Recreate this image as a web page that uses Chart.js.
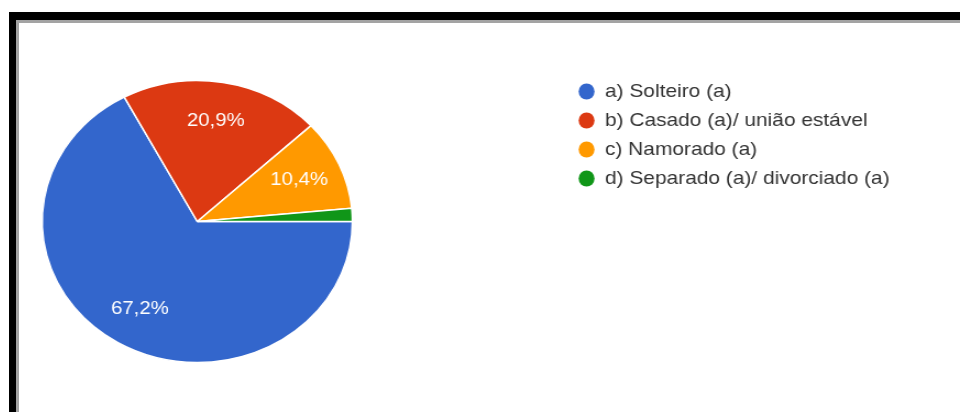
<!DOCTYPE html>
<html lang="pt-BR">
<head>
<meta charset="utf-8">
<title>Estado civil</title>
<script src="https://cdn.jsdelivr.net/npm/chart.js@4/dist/chart.umd.min.js"></script>
<style>
  html, body { margin: 0; padding: 0; background: #fff; overflow: hidden; }
  body { width: 960px; height: 412px; position: relative; }
  /* moldura preta com filete cinza (só em cima e à esquerda) */
  .moldura { position: absolute; left: 9px; top: 12px; right: -20px; bottom: -20px;
             border-top: 8px solid #000; border-left: 7px solid #000; }
  .filete { position: absolute; left: 0; top: 0; right: 0; bottom: 0;
            border-top: 3px solid #a3a3a3; border-left: 3px solid #a3a3a3; }
  #graficoEstadoCivil { position: absolute; left: -173px; top: 72px;
                        transform: scaleX(1.1); transform-origin: 0 0; }
</style>
</head>
<body>
<div class="moldura"><div class="filete"></div></div>
<canvas id="graficoEstadoCivil" width="976" height="299"></canvas>
<script>
// Dados
const categorias = [
  'a) Solteiro (a)',
  'b) Casado (a)/ união estável',
  'c) Namorado (a)',
  'd) Separado (a)/ divorciado (a)'
];
const percentuais = [67.2, 20.9, 10.4, 1.5];
const cores = ['#3366cc', '#dc3912', '#ff9900', '#109618'];

// Escreve o percentual dentro de cada fatia (fatias pequenas ficam sem texto)
const rotulosFatias = {
  id: 'rotulosFatias',
  afterDatasetsDraw(chart) {
    const { ctx } = chart;
    const meta = chart.getDatasetMeta(0);
    ctx.save();
    ctx.fillStyle = '#ffffff';
    ctx.font = '18.5px "Liberation Sans", Arial, sans-serif';
    ctx.textAlign = 'center';
    ctx.textBaseline = 'middle';
    meta.data.forEach((arco, i) => {
      const valor = percentuais[i];
      if (valor < 5) return;
      const meio = (arco.startAngle + arco.endAngle) / 2;
      const r = arco.outerRadius * 0.72;
      const x = arco.x + Math.cos(meio) * r;
      const y = arco.y + Math.sin(meio) * r;
      ctx.fillText(valor.toFixed(1).replace('.', ',') + '%', x, y);
    });
    ctx.restore();
  }
};

const ctx = document.getElementById('graficoEstadoCivil').getContext('2d');
const grafico = new Chart(ctx, {
  type: 'pie',
  data: {
    labels: categorias,
    datasets: [{
      data: percentuais,
      backgroundColor: cores,
      borderColor: '#ffffff',
      borderWidth: 1.5
    }]
  },
  options: {
    responsive: false,
    animation: false,
    rotation: 90,
    radius: 141,
    layout: { padding: 0 },
    plugins: {
      legend: {
        position: 'right',
        align: 'start',
        labels: {
          usePointStyle: true,
          pointStyle: 'circle',
          pointStyleWidth: 14.5,
          boxHeight: 11.3,
          padding: 10,
          color: '#333333',
          font: { family: '"Liberation Sans", Arial, sans-serif', size: 19 },
          // bolinhas sem a borda branca das fatias
          generateLabels(chart) {
            const itens = Chart.overrides.pie.plugins.legend.labels.generateLabels(chart);
            itens.forEach(item => { item.lineWidth = 0; });
            return itens;
          }
        }
      },
      tooltip: { enabled: false }
    }
  },
  plugins: [rotulosFatias]
});
</script>
</body>
</html>
